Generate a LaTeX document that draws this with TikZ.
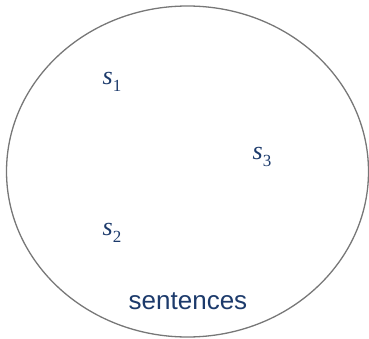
\documentclass[tikz,border=0pt]{standalone}
\usepackage{fontspec}
\setsansfont{Liberation Sans}
\newfontfamily\tmsfont{Liberation Serif}
\newcommand{\sidx}[1]{{\tmsfont\itshape s}\raisebox{-0.28em}{\tmsfont\fontsize{17}{20}\selectfont #1}}
\begin{document}
\begin{tikzpicture}[x=1pt,y=1pt,
  lbl/.style={text=txtblue,font=\fontsize{26}{30}\selectfont,inner sep=0pt},
  word/.style={text=txtblue,font=\sffamily\fontsize{26}{30}\selectfont,inner sep=0pt}]
\definecolor{txtblue}{HTML}{1C3A6B}
\definecolor{rimgray}{HTML}{777777}
\useasboundingbox (0,0) rectangle (369,338);
\draw[rimgray,line width=1.3pt] (187.5,166.5) ellipse [x radius=181, y radius=165.5];
\node[lbl] (s1) at (112,256) {\sidx{1}};
\node[lbl] (s3) at (262,181) {\sidx{3}};
\node[lbl] (s2) at (112,105) {\sidx{2}};
\node[word] (sent) at (188,37) {sentences};
\end{tikzpicture}
\end{document}
